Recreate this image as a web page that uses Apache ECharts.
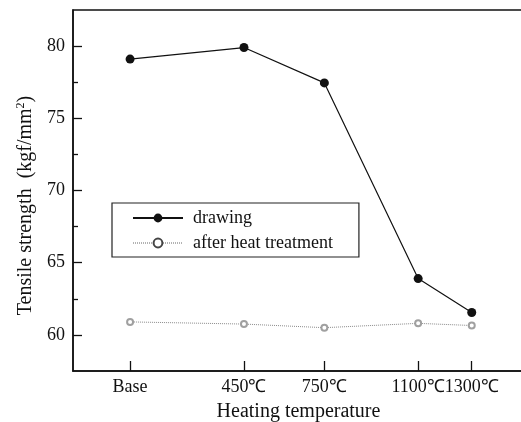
<!DOCTYPE html>
<html>
<head>
<meta charset="utf-8">
<script src="https://cdn.jsdelivr.net/npm/echarts@6/dist/echarts.min.js"></script>
<style>html,body{margin:0;padding:0;background:#fff;}#c{width:521px;height:422px;}</style>
</head>
<body>
<div id="c"></div>
<script>
// Data
var categories = ['Base', '450℃', '750℃', '1100℃', '1300℃'];
var temperatures = [25, 450, 750, 1100, 1300];
var drawing = [79.1, 79.9, 77.45, 63.9, 61.55];
var afterHeat = [60.9, 60.75, 60.5, 60.8, 60.65];
var yTickLabels = [60, 65, 70, 75, 80];
var yMinorTicks = [62.5, 67.5, 72.5, 77.5];

function pairs(xs, ys) { return xs.map(function (x, i) { return [x, ys[i]]; }); }

var font = 'Liberation Serif, Times New Roman, serif';
var chart = echarts.init(document.getElementById('c'), null, { renderer: 'canvas' });
chart.setOption({
  backgroundColor: '#fff',
  animation: false,
  grid: { left: 73, top: 10, right: -3, bottom: 51, outerBoundsMode: 'none', containLabel: false,
    show: true, borderColor: '#111', borderWidth: 1.5, backgroundColor: 'transparent' },
  legend: {
    orient: 'vertical', left: 112, top: 203,
    padding: [6, 26, 5, 20], itemGap: 7, itemWidth: 50, itemHeight: 11,
    borderColor: '#222', borderWidth: 1.2,
    textStyle: { fontFamily: font, fontSize: 18, color: '#111', padding: [0, 0, 0, 5] },
    data: [
      { name: 'drawing' },
      { name: 'after heat treatment', itemStyle: { color: '#444', borderColor: '#444', borderWidth: 1.2 }, lineStyle: { color: '#666', type: 'dotted', width: 1 } }
    ]
  },
  xAxis: {
    type: 'value', min: -188, max: 1495,
    name: 'Heating temperature', nameLocation: 'middle', nameGap: 31,
    nameTextStyle: { fontFamily: font, fontSize: 20, color: '#111' },
    axisLine: { show: true, onZero: false, lineStyle: { color: '#111', width: 1.5 } },
    axisTick: { show: true, inside: true, length: 10, customValues: temperatures, lineStyle: { color: '#111', width: 1.3 } },
    axisLabel: { customValues: temperatures, hideOverlap: false, margin: 7, fontFamily: font, fontSize: 18, color: '#111',
      formatter: function (v) { var i = temperatures.indexOf(v); return i >= 0 ? categories[i] : ''; } },
    splitLine: { show: false }
  },
  yAxis: [{
    type: 'value', min: 57.5, max: 82.5, position: 'left',
    name: 'Tensile strength  (kgf/mm{sup|2})', nameLocation: 'middle', nameGap: 32,
    nameTextStyle: { fontFamily: font, fontSize: 20, color: '#111', padding: [0, 30, 0, 0],
      rich: { sup: { fontFamily: font, fontSize: 12, verticalAlign: 'top', padding: [0, 0, 10, 0] } } },
    axisLine: { show: true, onZero: false, lineStyle: { color: '#111', width: 1.5 } },
    axisTick: { show: true, inside: true, length: 9, customValues: yTickLabels, lineStyle: { color: '#111', width: 1.3 } },
    axisLabel: { customValues: yTickLabels, margin: 8, fontFamily: font, fontSize: 18, color: '#111' },
    splitLine: { show: false }
  }, {
    type: 'value', min: 57.5, max: 82.5, position: 'left', offset: 0,
    axisLine: { show: false, onZero: false },
    axisTick: { show: true, inside: true, length: 5, customValues: yMinorTicks, lineStyle: { color: '#111', width: 1.3 } },
    axisLabel: { show: false },
    splitLine: { show: false }
  }],
  series: [{
    name: 'drawing', type: 'line', data: pairs(temperatures, drawing),
    symbol: 'circle', symbolSize: 9,
    lineStyle: { color: '#111', width: 1.2 },
    itemStyle: { color: '#111' }
  }, {
    name: 'after heat treatment', type: 'line', data: pairs(temperatures, afterHeat),
    symbol: 'emptyCircle', symbolSize: 6,
    lineStyle: { color: '#8c8c8c', width: 1, type: 'dotted' },
    itemStyle: { color: '#a0a0a0', borderColor: '#a0a0a0', borderWidth: 1 }
  }]
});
</script>
</body>
</html>
